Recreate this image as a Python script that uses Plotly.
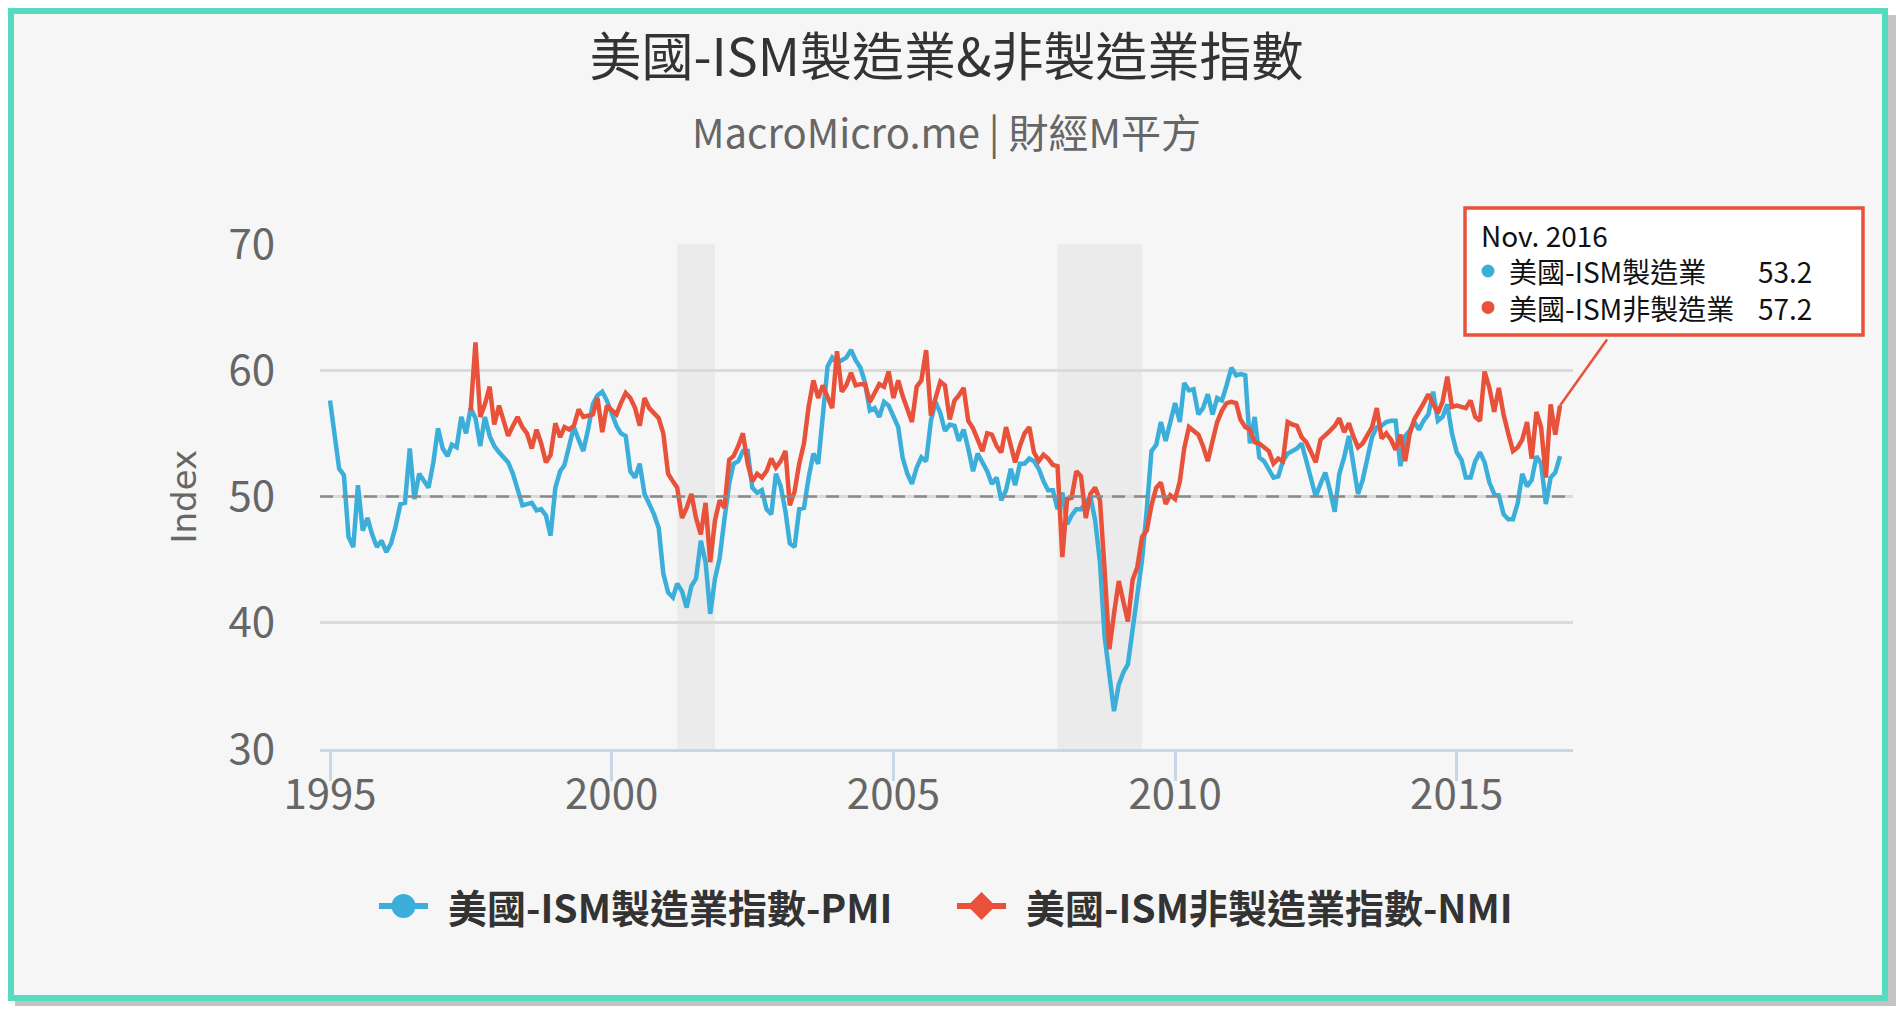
import pandas as pd
import plotly.graph_objects as go

# 月資料：1995/01 ~ 2016/11
months = pd.date_range("1995-01-01", "2016-11-01", freq="MS")
nmi_start = 30  # 非製造業指數自 1997/07 開始

pmi = [
    57.6, 55.0, 52.2, 51.7, 46.8, 46.0, 50.9, 47.3, 48.3, 47.0, 46.0, 46.5,  # 1995
    45.6, 46.3, 47.6, 49.4, 49.5, 53.8, 49.8, 51.8, 51.2, 50.7, 52.7, 55.4,  # 1996
    53.8, 53.2, 54.1, 53.9, 56.3, 55.0, 57.0, 56.2, 54.0, 56.3, 54.8, 54.0,  # 1997
    53.5, 53.1, 52.7, 51.8, 50.5, 49.3, 49.4, 49.5, 48.9, 49.0, 48.5, 46.9,  # 1998
    50.7, 52.0, 52.5, 54.0, 55.5, 54.5, 53.6, 55.3, 57.3, 58.0, 58.3, 57.6,  # 1999
    56.6, 55.6, 55.0, 54.8, 52.0, 51.5, 52.6, 50.2, 49.4, 48.6, 47.5, 43.9,  # 2000
    42.4, 42.0, 43.1, 42.5, 41.2, 42.9, 43.5, 46.5, 44.8, 40.7, 43.5, 45.1,  # 2001
    48.2, 51.0, 52.6, 52.8, 53.6, 53.6, 50.7, 50.3, 50.5, 49.0, 48.6, 51.8,  # 2002
    50.8, 48.8, 46.3, 46.0, 49.0, 49.1, 51.5, 53.4, 52.6, 56.0, 60.3, 61.0,  # 2003
    60.6, 60.8, 61.0, 61.6, 60.8, 60.2, 59.0, 56.8, 57.0, 56.3, 57.5, 57.2,  # 2004
    56.4, 55.5, 53.1, 51.8, 51.0, 52.3, 53.1, 52.8, 56.0, 57.5, 56.6, 55.2,  # 2005
    55.7, 55.6, 54.4, 55.3, 53.8, 52.0, 53.4, 52.6, 52.0, 51.0, 51.5, 49.7,  # 2006
    50.5, 52.2, 50.9, 52.6, 52.6, 53.0, 52.8, 52.2, 51.2, 50.5, 50.5, 49.0,  # 2007
    50.3, 47.8, 48.5, 49.0, 49.0, 49.5, 50.0, 48.1, 44.8, 38.9, 36.2, 33.0,  # 2008
    35.1, 36.1, 36.7, 39.3, 42.0, 45.0, 48.9, 53.6, 54.1, 55.9, 54.4, 55.9,  # 2009
    57.4, 55.9, 59.0, 58.4, 58.5, 56.5, 57.0, 58.1, 56.5, 57.8, 57.6, 58.8,  # 2010
    60.2, 59.6, 59.7, 59.6, 54.2, 56.3, 53.1, 52.8, 52.2, 51.5, 51.6, 52.8,  # 2011
    53.4, 53.6, 53.8, 54.2, 52.8, 51.5, 50.0, 51.0, 51.9, 50.5, 48.8, 51.8,  # 2012
    53.1, 54.8, 52.8, 50.2, 51.3, 53.1, 54.7, 55.5, 55.6, 55.9, 56.0, 56.0,  # 2013
    52.4, 54.8, 55.2, 55.9, 55.3, 56.0, 56.5, 58.3, 56.0, 56.3, 57.3, 55.0,  # 2014
    53.5, 52.9, 51.5, 51.5, 52.8, 53.5, 52.7, 51.1, 50.2, 50.1, 48.6, 48.2,  # 2015
    48.2, 49.5, 51.8, 50.8, 51.3, 53.2, 52.6, 49.4, 51.5, 51.9, 53.2,        # 2016
]

nmi = [
    56.8, 62.2, 56.3, 57.3, 58.7, 55.7,                                      # 1997 下半年
    57.2, 56.0, 54.8, 55.6, 56.3, 55.5, 55.0, 53.8, 55.3, 54.2, 52.7, 53.3,  # 1998
    55.8, 54.7, 55.5, 55.3, 55.6, 56.9, 56.3, 56.4, 56.5, 57.8, 55.1, 57.2,  # 1999
    56.8, 56.5, 57.4, 58.2, 57.8, 57.0, 55.6, 57.8, 57.0, 56.6, 56.2, 55.0,  # 2000
    51.8, 51.2, 50.7, 48.3, 49.1, 50.2, 48.3, 47.0, 49.5, 44.8, 48.1, 49.7,  # 2001
    49.1, 52.9, 53.2, 54.0, 55.0, 52.6, 51.2, 51.8, 51.5, 52.0, 53.0, 52.3,  # 2002
    52.8, 53.6, 49.3, 50.4, 52.6, 54.2, 57.1, 59.2, 57.8, 58.8, 57.9, 57.0,  # 2003
    61.5, 58.3, 58.8, 59.8, 58.8, 58.9, 58.9, 57.5, 58.2, 58.9, 58.7, 59.9,  # 2004
    57.8, 59.2, 58.0, 56.9, 55.9, 58.7, 59.2, 61.6, 56.4, 57.8, 59.1, 58.8,  # 2005
    56.1, 57.6, 58.0, 58.6, 56.0, 55.4, 54.5, 53.6, 55.0, 54.9, 54.0, 53.5,  # 2006
    55.5, 54.0, 52.7, 54.0, 55.0, 55.5, 53.5, 52.8, 53.3, 53.0, 52.5, 52.4,  # 2007
    45.2, 49.8, 49.9, 52.0, 51.6, 48.3, 50.2, 50.7, 49.7, 44.2, 37.9, 40.7,  # 2008
    43.3, 41.6, 40.1, 43.4, 44.4, 46.8, 47.3, 49.3, 50.7, 51.1, 49.4, 50.1,  # 2009
    49.8, 51.2, 53.8, 55.5, 55.2, 54.9, 54.0, 52.8, 54.4, 55.9, 56.8, 57.4,  # 2010
    57.5, 57.4, 56.1, 55.5, 55.3, 54.3, 54.2, 53.9, 53.6, 52.6, 53.0, 52.8,  # 2011
    55.9, 55.7, 55.6, 54.7, 54.3, 53.5, 52.7, 54.5, 54.8, 55.2, 55.6, 56.2,  # 2012
    55.1, 55.8, 54.8, 53.9, 54.2, 54.8, 55.5, 57.0, 54.6, 55.0, 54.5, 53.7,  # 2013
    54.9, 52.8, 54.9, 56.1, 56.7, 57.4, 58.1, 57.4, 56.6, 57.5, 59.5, 57.1,  # 2014
    57.2, 57.1, 57.0, 57.6, 56.3, 56.0, 59.9, 58.6, 56.7, 58.6, 56.5, 55.0,  # 2015
    53.6, 53.9, 54.5, 55.9, 53.0, 56.7, 55.5, 51.5, 57.3, 54.9, 57.2,        # 2016
]

recessions = [("2001-03-01", "2001-11-01"), ("2007-12-01", "2009-06-01")]
y_ticks = [30, 40, 50, 60, 70]
y_range = [30, 70]
x_range = ["1994-10-28", "2017-01-24"]

pmi_name = "美國-ISM製造業指數-PMI"
nmi_name = "美國-ISM非製造業指數-NMI"
tip_labels = ["美國-ISM製造業", "美國-ISM非製造業"]

assert len(pmi) == len(months)
assert len(nmi) == len(months) - nmi_start

BLUE = "#3baeda"
RED = "#e8513a"
TEAL = "#55dcc0"
CJK = "Noto Sans CJK TC, sans-serif"

# 頁面 body 有 8px 邊距，下面的位置都用頁面像素再換算
OFF = 8
W, H = 1888, 998
L, R, T, B = 312, 323, 236, 257
PW, PH = W - L - R, H - T - B


def px_x(x):
    return (x - OFF - L) / PW


def px_y(y):
    return (H - B - (y - OFF)) / PH


fig = go.Figure()

fig.add_trace(go.Scatter(x=months, y=pmi, mode="lines", name=pmi_name,
                         line=dict(color=BLUE, width=4.5), showlegend=False, hoverinfo="skip"))
fig.add_trace(go.Scatter(x=months[nmi_start:], y=nmi, mode="lines", name=nmi_name,
                         line=dict(color=RED, width=4.5), showlegend=False, hoverinfo="skip"))

shapes = [
    # 陰影 + 外框
    dict(type="rect", xref="paper", yref="paper", layer="below",
         x0=px_x(15), x1=px_x(1896), y0=px_y(15), y1=px_y(1006),
         fillcolor="#c4c4c4", line=dict(width=0)),
    dict(type="rect", xref="paper", yref="paper", layer="below",
         x0=px_x(11), x1=px_x(1885), y0=px_y(11), y1=px_y(998),
         fillcolor="#f6f6f6", line=dict(color=TEAL, width=6)),
]
for start, end in recessions:
    shapes.append(dict(type="rect", xref="x", yref="paper", layer="below",
                       x0=start, x1=end, y0=0, y1=1,
                       fillcolor="#ebebeb", line=dict(width=0)))
shapes.append(dict(type="line", xref="paper", yref="y", layer="above",
                   x0=0, x1=1, y0=50, y1=50,
                   line=dict(color="#8a8a8a", width=2.5, dash="13px,9px")))

# 提示框與連線（連到最後一個非製造業數值）
t0, t1 = pd.Timestamp(x_range[0]), pd.Timestamp(x_range[1])
last_px = (months[-1] - t0) / (t1 - t0)
last_py = (nmi[-1] - y_range[0]) / (y_range[1] - y_range[0])
shapes.append(dict(type="line", xref="paper", yref="paper", layer="above",
                   xsizemode="pixel", xanchor=last_px, x0=0, x1=47,
                   ysizemode="pixel", yanchor=last_py, y0=0, y1=66,
                   line=dict(color=RED, width=2.5)))
shapes.append(dict(type="rect", xref="paper", yref="paper", layer="above",
                   x0=px_x(1465), x1=px_x(1863), y0=px_y(208), y1=px_y(335),
                   fillcolor="white", line=dict(color=RED, width=3.5)))

tip_size = 28
tip_mid = 271
tip_step = tip_size * 1.3
for i, color in enumerate([BLUE, RED]):
    cy = tip_mid + i * tip_step
    shapes.append(dict(type="circle", xref="paper", yref="paper", layer="above",
                       x0=px_x(1481.5), x1=px_x(1494.5), y0=px_y(cy - 6.5), y1=px_y(cy + 6.5),
                       fillcolor=color, line=dict(width=0)))

tip_font = dict(family=CJK, size=tip_size, color="#111")
tip_left = "<br>".join([months[-1].strftime("%b. %Y")] + ["\u2003" + s for s in tip_labels])
tip_right = "<br>".join([" ", f"{pmi[-1]:.1f}", f"{nmi[-1]:.1f}"])

annotations = [
    dict(text="MacroMicro.me | 財經M平方", xref="paper", yref="paper", x=0.5, y=px_y(131),
         xanchor="center", yanchor="middle", showarrow=False,
         font=dict(family=CJK, size=40, color="#666")),
    dict(text="Index", xref="paper", yref="paper", x=px_x(183), y=0.5, textangle=-90,
         xanchor="center", yanchor="middle", showarrow=False,
         font=dict(family="DejaVu Sans, sans-serif", size=34, color="#666")),
    dict(text=tip_left, xref="paper", yref="paper", x=px_x(1479), y=px_y(tip_mid),
         xanchor="left", yanchor="middle", align="left", showarrow=False, font=tip_font),
    dict(text=tip_right, xref="paper", yref="paper", x=px_x(1814), y=px_y(tip_mid),
         xanchor="right", yanchor="middle", align="right", showarrow=False, font=tip_font),
]

# 圖例（手動畫：線段 + 標記 + 粗體文字）
leg_y = 906
for (lx0, lx1), color, symbol, text in [((379, 428), BLUE, "circle", pmi_name),
                                        ((957, 1006), RED, "diamond", nmi_name)]:
    cx = (lx0 + lx1) / 2
    shapes.append(dict(type="line", xref="paper", yref="paper", layer="above",
                       x0=px_x(lx0), x1=px_x(lx1), y0=px_y(leg_y), y1=px_y(leg_y),
                       line=dict(color=color, width=6)))
    if symbol == "circle":
        shapes.append(dict(type="circle", xref="paper", yref="paper", layer="above",
                           x0=px_x(cx - 12), x1=px_x(cx + 12), y0=px_y(leg_y - 12), y1=px_y(leg_y + 12),
                           fillcolor=color, line=dict(width=0)))
    else:
        r = 14
        path = (f"M{px_x(cx)},{px_y(leg_y - r)} L{px_x(cx + r)},{px_y(leg_y)} "
                f"L{px_x(cx)},{px_y(leg_y + r)} L{px_x(cx - r)},{px_y(leg_y)} Z")
        shapes.append(dict(type="path", xref="paper", yref="paper", layer="above",
                           path=path, fillcolor=color, line=dict(width=0)))
    annotations.append(dict(text=f"<b>{text}</b>", xref="paper", yref="paper",
                            x=px_x(lx1 + 18), y=px_y(leg_y), xanchor="left", yanchor="middle",
                            showarrow=False, font=dict(family=CJK, size=39, color="#333")))

fig.update_layout(
    width=W, height=H,
    margin=dict(l=L, r=R, t=T, b=B, pad=0),
    paper_bgcolor="white",
    plot_bgcolor="rgba(0,0,0,0)",
    showlegend=False,
    title=dict(text="美國-ISM製造業&非製造業指數", xref="paper", x=0.5, xanchor="center",
               yref="container", y=1 - (58 - OFF) / H, yanchor="middle",
               font=dict(family=CJK, size=52, color="#333")),
    xaxis=dict(type="date", range=x_range,
               tick0="1995-01-01", dtick="M60", tickformat="%Y",
               showgrid=False, showline=True, linecolor="#c6d8e8", linewidth=3,
               ticks="outside", ticklen=29, tickwidth=3, tickcolor="#c6d8e8",
               ticklabelstandoff=-22,
               tickfont=dict(family=CJK, size=42, color="#666"), zeroline=False),
    yaxis=dict(range=y_range, tickvals=y_ticks, showgrid=True, gridcolor="#dadada", gridwidth=3,
               zeroline=False, showline=False, ticks="", ticklabelstandoff=44,
               tickfont=dict(family=CJK, size=42, color="#666")),
    shapes=shapes,
    annotations=annotations,
    hovermode=False,
)

fig.write_html("out.html")
